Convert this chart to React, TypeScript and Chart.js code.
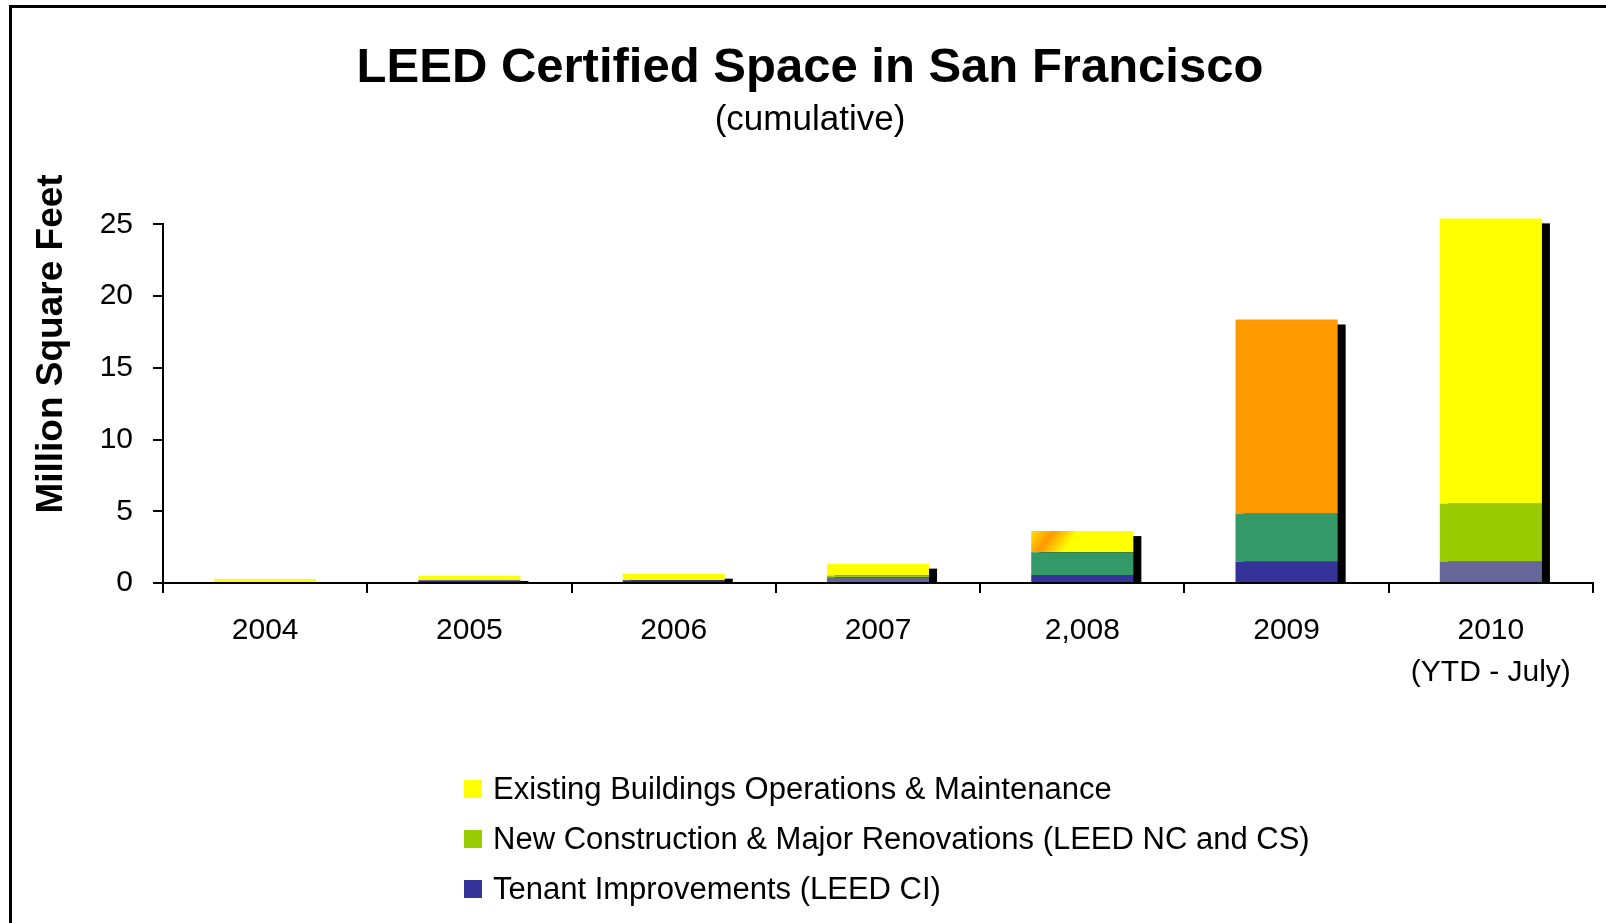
import React, { useEffect, useRef } from 'react';
import { Chart, registerables } from 'chart.js';

Chart.register(...registerables);

// ---- data ----
const years: (string | string[])[] = ['2004', '2005', '2006', '2007', '2,008', '2009', ['2010', '(YTD - July)']];
const tenantValues = [0, 0.2, 0.2, 0.4, 0.55, 1.49, 1.49];
const newConstructionValues = [0, 0, 0, 0.12, 1.6, 3.33, 4.03];
const existingValues = [0.28, 0.29, 0.45, 0.83, 1.47, 13.55, 19.9];
const yTicks = [0, 5, 10, 15, 20, 25];

const seriesLabels = [
  'Existing Buildings Operations & Maintenance',
  'New Construction & Major Renovations (LEED NC and CS)',
  'Tenant Improvements (LEED CI)',
];
const legendColors = ['#FFFF00', '#99CC00', '#333399'];
const tenantColors = ['#333399', '#333399', '#333399', '#666699', '#333399', '#333399', '#666699'];
const newColors = ['#99CC00', '#99CC00', '#99CC00', '#99CC00', '#339966', '#339966', '#99CC00'];
const existingColors = ['#FFFF00', '#FFFF00', '#FFFF00', '#FFFF00', 'gradient', '#FF9900', '#FFFF00'];

const FONT = "'Liberation Sans', Arial, sans-serif";

const totalAt = (i: number) => tenantValues[i] + newConstructionValues[i] + existingValues[i];

const shadowPlugin = {
  id: 'barShadow',
  beforeDatasetsDraw(chart: any) {
    const { ctx, scales } = chart;
    const y = scales.y;
    const meta = chart.getDatasetMeta(chart.data.datasets.length - 1);
    const base = y.getPixelForValue(0);
    ctx.save();
    ctx.fillStyle = '#000';
    meta.data.forEach((el: any, i: number) => {
      const top = y.getPixelForValue(totalAt(i)) + 5;
      if (base - top > 0) ctx.fillRect(el.x - el.width / 2 + 8, top, el.width, base - top);
    });
    ctx.restore();
  },
};

const yTitlePlugin = {
  id: 'yTitle',
  afterDraw(chart: any) {
    const { ctx } = chart;
    ctx.save();
    ctx.translate(62, 344);
    ctx.rotate(-Math.PI / 2);
    ctx.font = `bold 37px ${FONT}`;
    ctx.fillStyle = '#000';
    ctx.textAlign = 'center';
    ctx.textBaseline = 'alphabetic';
    ctx.fillText('Million Square Feet', 0, 0);
    ctx.restore();
  },
};

export default function App() {
  const canvasRef = useRef<HTMLCanvasElement | null>(null);

  useEffect(() => {
    if (!canvasRef.current) return;
    const existingBg = (c: any) => {
      const col = existingColors[c.dataIndex];
      if (col !== 'gradient') return col;
      const chart = c.chart;
      const xs = chart.scales?.x;
      const ys = chart.scales?.y;
      if (!xs || !ys || !xs.width) return '#FFFF00';
      const i = c.dataIndex;
      const cx = xs.getPixelForValue(i);
      const half = (xs.width / years.length) * 0.25;
      const top = ys.getPixelForValue(totalAt(i));
      const g = chart.ctx.createLinearGradient(cx - half, top, cx - half + 42, top + 30);
      g.addColorStop(0, '#FFE000');
      g.addColorStop(0.35, '#FF9900');
      g.addColorStop(0.75, '#FFFF00');
      g.addColorStop(1, '#FFFF00');
      return g;
    };

    const chart = new Chart(canvasRef.current, {
      type: 'bar',
      data: {
        labels: years as any,
        datasets: [
          { label: seriesLabels[2], data: tenantValues, backgroundColor: tenantColors, borderWidth: 0, clip: false as any },
          { label: seriesLabels[1], data: newConstructionValues, backgroundColor: newColors, borderWidth: 0, clip: false as any },
          { label: seriesLabels[0], data: existingValues, backgroundColor: existingBg as any, borderWidth: 0, clip: false as any },
        ],
      },
      options: {
        animation: false,
        responsive: false,
        events: [],
        layout: { padding: { left: 27, right: 13, top: 0, bottom: 212 } },
        datasets: { bar: { categoryPercentage: 1, barPercentage: 0.5 } },
        plugins: {
          legend: { display: false },
          tooltip: { enabled: false },
          title: {
            display: true,
            text: 'LEED Certified Space in San Francisco',
            color: '#000',
            font: { family: FONT, size: 49, weight: 'bold' },
            padding: { top: 39, bottom: 0 },
          },
          subtitle: {
            display: true,
            text: '(cumulative)',
            color: '#000',
            font: { family: FONT, size: 35, weight: 'normal' },
            padding: { top: 2, bottom: 82.6 },
          },
        },
        scales: {
          x: {
            stacked: true,
            grid: { offset: true, drawOnChartArea: false, drawTicks: true, tickLength: 10, color: '#000', lineWidth: 2 },
            border: { display: true, color: '#000', width: 2 },
            ticks: { color: '#000', font: { family: FONT, size: 30, lineHeight: 1.4 }, padding: 17, maxRotation: 0, autoSkip: false },
          },
          y: {
            stacked: true,
            min: 0,
            max: 25,
            afterFit: (s: any) => { s.width = 136; },
            afterBuildTicks: (s: any) => { s.ticks = yTicks.map((v) => ({ value: v })); },
            grid: { drawOnChartArea: false, drawTicks: true, tickLength: 10, color: '#000', lineWidth: 2 },
            border: { display: true, color: '#000', width: 2 },
            ticks: { color: '#000', font: { family: FONT, size: 30 }, padding: 20 },
          },
        },
      },
      plugins: [shadowPlugin, yTitlePlugin],
    });
    return () => chart.destroy();
  }, []);

  const legendRows = [0, 1, 2];
  const rowCenters = [789, 839, 889];

  return (
    <div style={{ position: 'fixed', left: 0, top: 0, width: 1606, height: 923, overflow: 'hidden', background: '#fff' }}>
      <div style={{ position: 'absolute', left: 9, top: 5, width: 1700, height: 1100, border: '3px solid #000', boxSizing: 'border-box' }} />
      <canvas ref={canvasRef} width={1606} height={923} style={{ position: 'absolute', left: 0, top: 0, width: 1606, height: 923 }} />
      {legendRows.map((i) => (
        <div key={i} style={{ position: 'absolute', left: 464, top: rowCenters[i] - 20, height: 40, display: 'flex', alignItems: 'center', fontFamily: FONT, fontSize: 31, color: '#000', whiteSpace: 'nowrap' }}>
          <span style={{ display: 'inline-block', width: 18, height: 18, background: legendColors[i], marginRight: 11 }} />
          <span>{seriesLabels[i]}</span>
        </div>
      ))}
    </div>
  );
}
